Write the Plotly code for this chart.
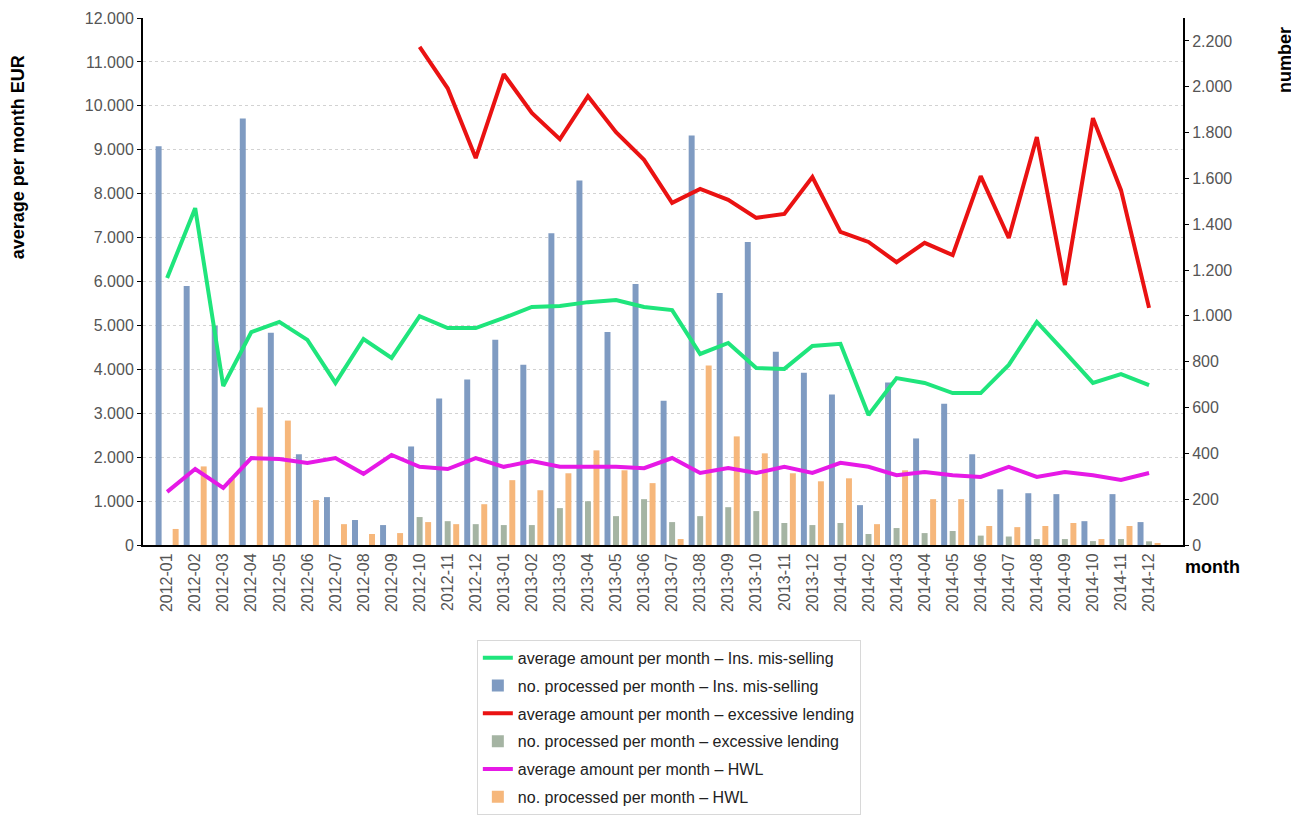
import plotly.graph_objects as go

months = ["2012-01","2012-02","2012-03","2012-04","2012-05","2012-06","2012-07","2012-08","2012-09","2012-10","2012-11","2012-12",
          "2013-01","2013-02","2013-03","2013-04","2013-05","2013-06","2013-07","2013-08","2013-09","2013-10","2013-11","2013-12",
          "2014-01","2014-02","2014-03","2014-04","2014-05","2014-06","2014-07","2014-08","2014-09","2014-10","2014-11","2014-12"]

# average amount per month (EUR, left axis)
avg_ins = [6080, 7670, 3620, 4850, 5080, 4670, 3690, 4690, 4260, 5210, 4940, 4940,
           5170, 5420, 5440, 5530, 5580, 5420, 5350, 4350, 4600, 4030, 4010, 4530,
           4580, 2960, 3800, 3690, 3460, 3460, 4100, 5080, 4390, 3690, 3890, 3640]
avg_exc = [None, None, None, None, None, None, None, None, None, 11340, 10400, 8810,
           10720, 9840, 9240, 10220, 9400, 8770, 7790, 8110, 7860, 7450, 7540, 8380,
           7130, 6900, 6440, 6880, 6600, 8400, 6990, 9290, 5920, 9720, 8080, 5400]
avg_hwl = [1210, 1730, 1300, 1980, 1960, 1870, 1980, 1620, 2050, 1780, 1730, 1980,
           1780, 1910, 1780, 1780, 1780, 1750, 1980, 1640, 1750, 1640, 1780, 1640,
           1870, 1780, 1590, 1660, 1590, 1550, 1780, 1550, 1660, 1590, 1480, 1640]

# number processed per month (right axis)
num_ins = [1740, 1130, 957, 1861, 926, 396, 209, 109, 87, 430, 639, 722,
           896, 787, 1361, 1591, 930, 1139, 630, 1787, 1100, 1322, 843, 752,
           657, 174, 709, 465, 617, 396, 243, 226, 222, 104, 222, 100]
num_exc = [None, None, None, None, None, None, None, None, None, 122, 104, 91,
           87, 87, 161, 191, 126, 200, 100, 126, 165, 148, 96, 87,
           96, 48, 74, 52, 61, 41, 37, 26, 26, 17, 26, 16]
num_hwl = [70, 343, 291, 600, 543, 196, 91, 48, 52, 100, 91, 178,
           283, 239, 313, 413, 326, 270, 26, 783, 474, 400, 313, 278,
           291, 91, 326, 200, 200, 83, 78, 83, 96, 26, 83, 5]

left_ticks = list(range(0, 12001, 1000))
right_ticks = list(range(0, 2201, 200))

C_GREEN = "#1fe57c"
C_RED = "#ea1212"
C_MAG = "#e619e6"
C_BLUE = "#7f9bc2"
C_GRAY = "#a5b4a3"
C_ORANGE = "#f6b77b"

fig = go.Figure()

def add_line(y, name, color, grp):
    fig.add_trace(go.Scatter(x=months, y=y, name=name, mode="lines",
                             line=dict(color=color, width=4), yaxis="y2",
                             legendgroup=grp, connectgaps=False))

def add_bar(y, name, color, grp):
    fig.add_trace(go.Bar(x=months, y=y, name=name, marker=dict(color=color, line=dict(width=0)),
                         yaxis="y", legendgroup=grp))

add_line(avg_ins, "average amount per month – Ins. mis-selling", C_GREEN, "g1")
add_bar(num_ins, "no. processed per month – Ins. mis-selling", C_BLUE, "g2")
add_line(avg_exc, "average amount per month – excessive lending", C_RED, "g3")
add_bar(num_exc, "no. processed per month – excessive lending", C_GRAY, "g4")
add_line(avg_hwl, "average amount per month – HWL", C_MAG, "g5")
add_bar(num_hwl, "no. processed per month – HWL", C_ORANGE, "g6")

tick_font = dict(family="Liberation Sans, Arial, sans-serif", size=16, color="#555555")
title_font = dict(family="Liberation Sans, Arial, sans-serif", size=18, color="#000000")

fig.update_layout(
    width=1299, height=818,
    margin=dict(l=135, r=124, t=10, b=281, autoexpand=False),
    paper_bgcolor="white", plot_bgcolor="white",
    separators=",.",
    barmode="group", bargap=0.09, bargroupgap=0.3,
    showlegend=True,
    legend=dict(x=0.321, y=-0.18, xanchor="left", yanchor="top",
                bgcolor="white", bordercolor="#d8d8d8", borderwidth=1,
                font=dict(family="Liberation Sans, Arial, sans-serif", size=16, color="#222222"),
                traceorder="grouped", tracegroupgap=4),
    xaxis=dict(type="category", range=[-0.86, 36.21], tickangle=-90,
               tickfont=tick_font, showline=True, linecolor="#000000", linewidth=2,
               showgrid=False, ticks=""),
    yaxis=dict(side="right", range=[0, 2300], tickvals=right_ticks,
               tickformat=",d", tickfont=tick_font, showline=True, linecolor="#000000",
               linewidth=2, ticks="outside", ticklen=4, tickcolor="#000000",
               showgrid=False, zeroline=False),
    yaxis2=dict(side="left", overlaying="y", range=[0, 12000], tickvals=left_ticks,
                tickformat=",d", tickfont=tick_font, showline=True, linecolor="#000000",
                linewidth=2, ticks="outside", ticklen=4, tickcolor="#000000",
                showgrid=True, gridcolor="#d2d2d2", griddash="dot", gridwidth=1,
                zeroline=False),
    annotations=[
        dict(text="<b>average per month EUR</b>", xref="paper", yref="paper",
             x=-0.12, y=0.736, textangle=-90, showarrow=False, font=title_font,
             xanchor="center", yanchor="middle"),
        dict(text="<b>number</b>", xref="paper", yref="paper",
             x=1.098, y=0.92, textangle=-90, showarrow=False, font=title_font,
             xanchor="center", yanchor="middle"),
        dict(text="<b>month</b>", xref="paper", yref="paper",
             x=1.028, y=-0.042, showarrow=False, font=title_font,
             xanchor="center", yanchor="middle"),
    ],
)

fig.write_html("out.html")
